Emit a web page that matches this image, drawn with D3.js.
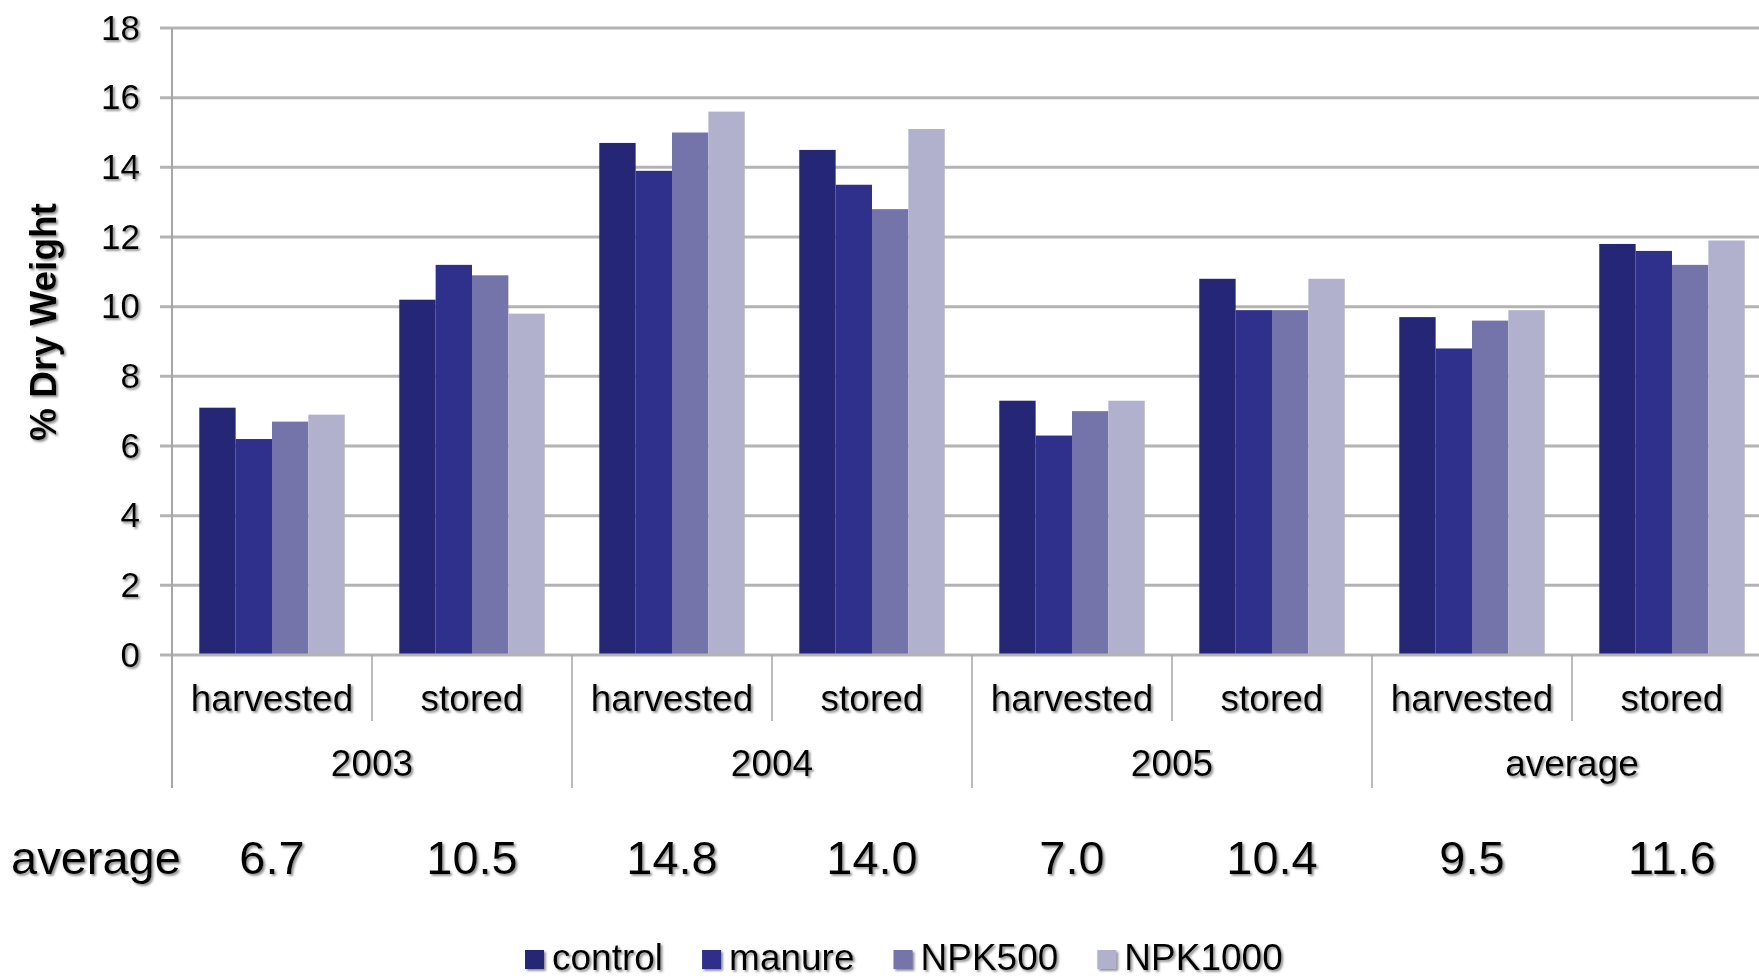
<!DOCTYPE html>
<html>
<head>
<meta charset="utf-8">
<script src="https://cdn.jsdelivr.net/npm/d3@7"></script>
<style>
  html, body { margin: 0; padding: 0; background: #fff; }
  svg { display: block; font-family: Arial, "Liberation Sans", sans-serif; }
</style>
</head>
<body>
<div id="chart"></div>
<script>
// data
const years = ["2003", "2004", "2005", "average"];
const stages = ["harvested", "stored"];
const series = ["control", "manure", "NPK500", "NPK1000"];
const seriesColors = ["#262677", "#2f2f8c", "#7474ab", "#b1b1ce"];
const control = [7.1, 10.2, 14.7, 14.5, 7.3, 10.8, 9.7, 11.8];
const manure = [6.2, 11.2, 13.9, 13.5, 6.3, 9.9, 8.8, 11.6];
const npk500 = [6.7, 10.9, 15.0, 12.8, 7.0, 9.9, 9.6, 11.2];
const npk1000 = [6.9, 9.8, 15.6, 15.1, 7.3, 10.8, 9.9, 11.9];
const averages = ["6.7", "10.5", "14.8", "14.0", "7.0", "10.4", "9.5", "11.6"];
const yTicks = [0, 2, 4, 6, 8, 10, 12, 14, 16, 18];

const width = 1759, height = 979;
const plotLeft = 172, plotRight = 1772, plotTop = 28, plotBottom = 655;

const valuesBySeries = [control, manure, npk500, npk1000];
const cats = [];
years.forEach(yr => stages.forEach(st => cats.push({ key: yr + "|" + st, year: yr, stage: st })));
cats.forEach((c, i) => { c.values = series.map((s, j) => ({ s: s, v: valuesBySeries[j][i] })); });

const color = d3.scaleOrdinal().domain(series).range(seriesColors);

const x0 = d3.scaleBand().domain(cats.map(c => c.key)).range([plotLeft, plotRight]);
const x1 = d3.scaleBand().domain(series).range([0, x0.bandwidth()]).paddingOuter(0.75);
const y = d3.scaleLinear().domain([0, 18]).range([plotBottom, plotTop]);

const svg = d3.select("#chart").append("svg")
    .attr("width", width)
    .attr("height", height);

// soft grey shadow like the scanned text
const defs = svg.append("defs");
defs.append("filter").attr("id", "shadow")
    .attr("x", "-5%").attr("y", "-5%").attr("width", "115%").attr("height", "130%")
    .append("feDropShadow")
    .attr("dx", 1.8).attr("dy", 1.8).attr("stdDeviation", 0.9)
    .attr("flood-color", "#777").attr("flood-opacity", 0.85);

svg.append("rect").attr("width", width).attr("height", height).attr("fill", "#fff");

// gridlines
svg.append("g")
    .selectAll("line")
    .data(yTicks.filter(d => d > 0))
    .join("line")
    .attr("x1", plotLeft - 12)
    .attr("x2", plotRight)
    .attr("y1", d => y(d))
    .attr("y2", d => y(d))
    .attr("stroke", "#b3b3b3")
    .attr("stroke-width", 3);

// bars
svg.append("g")
    .selectAll("g")
    .data(cats)
    .join("g")
    .attr("transform", d => `translate(${x0(d.key)},0)`)
    .selectAll("rect")
    .data(d => d.values)
    .join("rect")
    .attr("x", d => x1(d.s))
    .attr("y", d => y(d.v))
    .attr("width", x1.bandwidth())
    .attr("height", d => y(0) - y(d.v))
    .attr("fill", d => color(d.s));

// zero line
svg.append("line")
    .attr("x1", plotLeft - 12).attr("x2", plotRight)
    .attr("y1", y(0)).attr("y2", y(0))
    .attr("stroke", "#b3b3b3").attr("stroke-width", 3);

// y axis line, runs down into the category table
svg.append("line")
    .attr("x1", plotLeft).attr("x2", plotLeft)
    .attr("y1", plotTop).attr("y2", 788)
    .attr("stroke", "#a6a6a6").attr("stroke-width", 2);

// separators between categories / groups
svg.append("g")
    .selectAll("line")
    .data(cats.slice(1))
    .join("line")
    .attr("x1", d => x0(d.key))
    .attr("x2", d => x0(d.key))
    .attr("y1", y(0))
    .attr("y2", d => d.stage === "harvested" ? 788 : 721)
    .attr("stroke", "#a6a6a6")
    .attr("stroke-width", 1.5);

const txt = svg.append("g").attr("filter", "url(#shadow)").attr("fill", "#000");

// y tick labels
const yAxis = txt.append("g")
    .attr("transform", `translate(${plotLeft},0)`)
    .call(d3.axisLeft(y).tickValues(yTicks).tickSize(0).tickPadding(32));
yAxis.select(".domain").remove();
yAxis.selectAll("text")
    .attr("fill", "#000")
    .style("font-size", "35px")
    .style("font-family", "Arial, 'Liberation Sans', sans-serif");

// y title
txt.append("text")
    .attr("transform", "translate(56,322) rotate(-90)")
    .attr("text-anchor", "middle")
    .style("font-size", "37px")
    .style("font-weight", "bold")
    .text("% Dry Weight");

// category labels
txt.append("g")
    .selectAll("text")
    .data(cats)
    .join("text")
    .attr("x", d => x0(d.key) + x0.bandwidth() / 2)
    .attr("y", 711)
    .attr("text-anchor", "middle")
    .style("font-size", "37px")
    .text(d => d.stage);

// group labels
txt.append("g")
    .selectAll("text")
    .data(years)
    .join("text")
    .attr("x", d => x0(d + "|" + stages[0]) + x0.bandwidth())
    .attr("y", 776)
    .attr("text-anchor", "middle")
    .style("font-size", "37px")
    .text(d => d);

// average row
txt.append("text")
    .attr("x", 11)
    .attr("y", 874)
    .style("font-size", "47px")
    .text("average");

txt.append("g")
    .selectAll("text")
    .data(cats)
    .join("text")
    .attr("x", d => x0(d.key) + x0.bandwidth() / 2)
    .attr("y", 874)
    .attr("text-anchor", "middle")
    .style("font-size", "47px")
    .text((d, i) => averages[i]);

// legend
const legend = txt.append("g").attr("transform", "translate(525,0)");
let lx = 0;
series.forEach(s => {
    const item = legend.append("g").attr("transform", `translate(${lx},0)`);
    item.append("rect")
        .attr("x", 0).attr("y", 950)
        .attr("width", 19).attr("height", 19)
        .attr("fill", color(s));
    const t = item.append("text")
        .attr("x", 27)
        .attr("y", 970)
        .style("font-size", "37px")
        .text(s);
    lx += 27 + t.node().getComputedTextLength() + 39;
});
</script>
</body>
</html>
